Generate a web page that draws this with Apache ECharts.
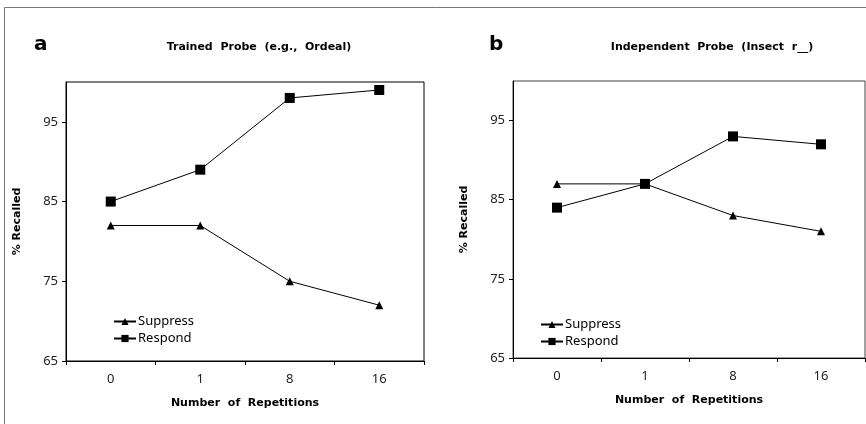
<!DOCTYPE html>
<html>
<head>
<meta charset="utf-8">
<script src="https://cdn.jsdelivr.net/npm/echarts@6/dist/echarts.min.js"></script>
<style>
  html, body { margin: 0; padding: 0; background: #fff; }
  #chart { width: 866px; height: 424px; }
</style>
</head>
<body>
<div id="chart"></div>
<script>
// --- data ---
const categories = ['0', '1', '8', '16'];
const yTicks = [65, 75, 85, 95];

const trainedSuppress = [82, 82, 75, 72];
const trainedRespond = [85, 89, 98, 99];
const independentSuppress = [87, 87, 83, 81];
const independentRespond = [84, 87, 93, 92];

const BOLD = 'DejaVu Sans';
const PLAIN = 'Noto Sans';

const chart = echarts.init(document.getElementById('chart'));

// 坐标轴公共样式
const makeX = (gridIndex) => ({
  type: 'category',
  gridIndex: gridIndex,
  data: categories,
  boundaryGap: true,
  name: 'Number  of  Repetitions',
  nameLocation: 'middle',
  nameGap: 37,
  nameTextStyle: { fontFamily: BOLD, fontWeight: 'bold', fontSize: 11, color: '#000' },
  axisLine: { lineStyle: { color: '#000', width: 1 } },
  axisTick: { show: true, length: 4, lineStyle: { color: '#000' } },
  axisLabel: { fontFamily: PLAIN, fontSize: 13, color: '#222', margin: 12 },
  splitLine: { show: false }
});

const makeY = (gridIndex) => ({
  type: 'value',
  gridIndex: gridIndex,
  min: 65,
  max: 100,
  interval: 10,
  name: '% Recalled',
  nameLocation: 'middle',
  nameGap: 43,
  nameTextStyle: { fontFamily: BOLD, fontWeight: 'bold', fontSize: 11, color: '#000' },
  axisLine: { show: true, lineStyle: { color: '#000', width: 1 } },
  axisTick: { show: true, length: 4, customValues: yTicks, lineStyle: { color: '#000' } },
  axisLabel: { fontFamily: PLAIN, fontSize: 13, color: '#222', margin: 8, customValues: yTicks },
  splitLine: { show: false }
});

const makeSeries = (name, data, symbol, size, idx) => ({
  name: name,
  type: 'line',
  xAxisIndex: idx,
  yAxisIndex: idx,
  data: data,
  symbol: symbol,
  symbolSize: size,
  lineStyle: { color: '#000', width: 1 },
  itemStyle: { color: '#000' },
  animation: false
});

const makeLegend = (left, top) => ({
  orient: 'vertical',
  left: left,
  top: top,
  itemWidth: 22,
  itemHeight: 9,
  itemGap: 4,
  data: ['Suppress', 'Respond'],
  textStyle: { fontFamily: PLAIN, fontSize: 13, color: '#000', padding: [0, 0, 0, -3] }
});

const option = {
  backgroundColor: '#fff',
  animation: false,
  title: [
    { text: 'a', left: 29, top: 30, textStyle: { fontFamily: BOLD, fontWeight: 'bold', fontSize: 20, color: '#000' } },
    { text: 'Trained  Probe  (e.g.,  Ordeal)', left: 254, top: 37, textAlign: 'center',
      textStyle: { fontFamily: BOLD, fontWeight: 'bold', fontSize: 11, color: '#000' } },
    { text: 'b', left: 484, top: 30, textStyle: { fontFamily: BOLD, fontWeight: 'bold', fontSize: 20, color: '#000' } },
    { text: 'Independent  Probe  (Insect  r__)', left: 707, top: 37, textAlign: 'center',
      textStyle: { fontFamily: BOLD, fontWeight: 'bold', fontSize: 11, color: '#000' } }
  ],
  legend: [makeLegend(108, 310), makeLegend(535, 313)],
  grid: [
    { left: 66, top: 82, width: 358, height: 279, show: true, borderColor: '#000', borderWidth: 1 },
    { left: 513, top: 81, width: 352, height: 277, show: true, borderColor: '#444', borderWidth: 1 }
  ],
  xAxis: [makeX(0), makeX(1)],
  yAxis: [makeY(0), makeY(1)],
  series: [
    makeSeries('Suppress', trainedSuppress, 'triangle', 8, 0),
    makeSeries('Respond', trainedRespond, 'rect', 10, 0),
    makeSeries('Suppress', independentSuppress, 'triangle', 8, 1),
    makeSeries('Respond', independentRespond, 'rect', 10, 1)
  ],
  // 外框（灰色）
  graphic: [
    { type: 'line', shape: { x1: 4.5, y1: 7.5, x2: 866, y2: 7.5 }, style: { stroke: '#777', lineWidth: 1 } },
    { type: 'line', shape: { x1: 4.5, y1: 7.5, x2: 4.5, y2: 424 }, style: { stroke: '#777', lineWidth: 1 } }
  ]
};

chart.setOption(option);
</script>
</body>
</html>
